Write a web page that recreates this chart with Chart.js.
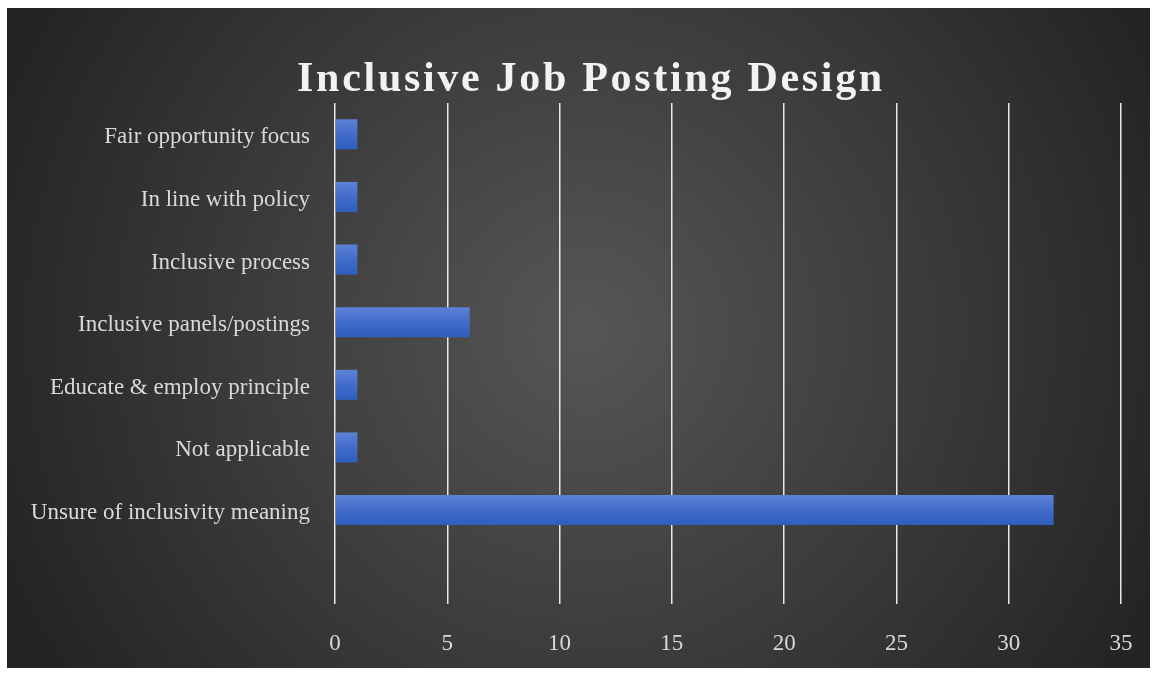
<!DOCTYPE html>
<html>
<head>
<meta charset="utf-8">
<script src="https://cdn.jsdelivr.net/npm/chart.js@4/dist/chart.umd.min.js"></script>
<style>
html,body{margin:0;padding:0;background:#fff;}
#wrap{position:relative;width:1156px;height:675px;}
</style>
</head>
<body>
<div id="wrap"><canvas id="c" width="1156" height="675"></canvas></div>
<script>
const chartTitle = 'Inclusive Job Posting Design';
const categories = ['Fair opportunity focus','In line with policy','Inclusive process','Inclusive panels/postings','Educate & employ principle','Not applicable','Unsure of inclusivity meaning',''];
const counts = [1,1,1,6,1,1,32,null];
const xMin = 0, xMax = 35, xStep = 5;

const bgPlugin = {
  id: 'bg',
  beforeDraw(chart) {
    const ctx = chart.ctx;
    ctx.save();
    ctx.fillStyle = '#ffffff';
    ctx.fillRect(0, 0, chart.width, chart.height);
    const g = ctx.createRadialGradient(585, 330, 0, 585, 330, 640);
    g.addColorStop(0, '#565656');
    g.addColorStop(1, '#232323');
    ctx.fillStyle = g;
    ctx.fillRect(7, 8, 1143, 660);
    ctx.restore();
  },
  afterDraw(chart) {
    const ctx = chart.ctx;
    ctx.save();
    ctx.font = 'bold 42px "Liberation Serif", "Times New Roman", serif';
    ctx.fillStyle = '#f2f2f2';
    ctx.textAlign = 'center';
    ctx.textBaseline = 'alphabetic';
    if ('letterSpacing' in ctx) ctx.letterSpacing = '2.7px';
    ctx.fillText(chartTitle, 591, 91);
    ctx.restore();
  }
};

new Chart(document.getElementById('c'), {
  type: 'bar',
  data: {
    labels: categories,
    datasets: [{
      data: counts,
      backgroundColor: (c) => {
        const chart = c.chart;
        const ys = chart.scales && chart.scales.y;
        if (!ys || !chart.chartArea) return '#4472c4';
        const yc = ys.getPixelForValue(c.dataIndex);
        const g = chart.ctx.createLinearGradient(0, yc - 15, 0, yc + 15);
        g.addColorStop(0, '#5b83d6');
        g.addColorStop(0.5, '#416cc9');
        g.addColorStop(1, '#2f5ebd');
        return g;
      },
      borderWidth: 0,
      barPercentage: 0.48,
      categoryPercentage: 1
    }]
  },
  options: {
    indexAxis: 'y',
    responsive: false,
    animation: false,
    devicePixelRatio: 1,
    layout: { padding: { left: 7, right: 35, top: 103, bottom: 0 } },
    plugins: { legend: { display: false }, title: { display: false }, tooltip: { enabled: false } },
    scales: {
      x: {
        min: xMin, max: xMax,
        ticks: { stepSize: xStep, color: '#d9d9d9', padding: 26, font: { family: '"Liberation Serif", serif', size: 23 } },
        grid: { color: '#e8e8e8', lineWidth: 1.5, drawTicks: false },
        border: { display: false },
        afterFit(s) { s.height = 71; s.paddingLeft = 0; s.paddingRight = 0; }
      },
      y: {
        ticks: { color: '#d9d9d9', padding: 25, labelOffset: 3, font: { family: '"Liberation Serif", serif', size: 23 } },
        grid: { display: false, drawTicks: false },
        border: { display: false },
        afterFit(s) { s.width = 328; s.paddingTop = 0; s.paddingBottom = 0; }
      }
    }
  },
  plugins: [bgPlugin]
});
</script>
</body>
</html>
